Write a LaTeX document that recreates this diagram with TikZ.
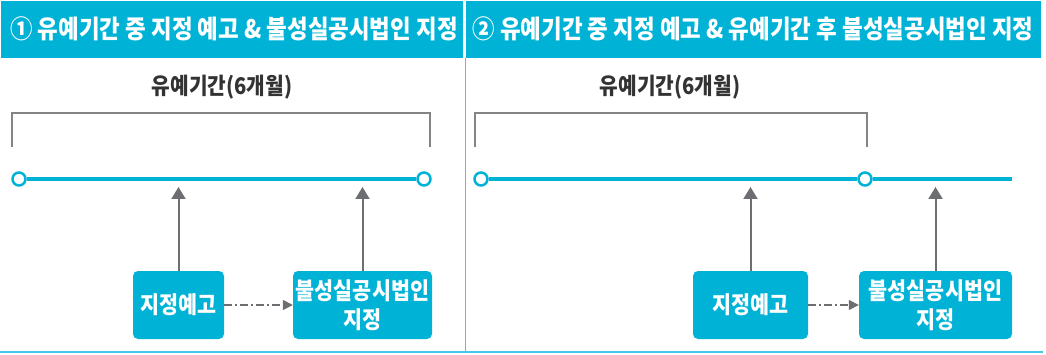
\documentclass[tikz,border=0pt]{standalone}
\usepackage{fontspec}
\setmainfont{Noto Sans CJK KR}[FakeStretch=0.88]
\usepackage{tikz}
\usetikzlibrary{arrows.meta}

\definecolor{tcyan}{HTML}{00B3D6}
\definecolor{lcyan}{HTML}{45C8E6}
\definecolor{tgray}{HTML}{6D6E71}
\definecolor{tdark}{HTML}{333333}

\begin{document}
\begin{tikzpicture}[x=1pt,y=-1pt,
	head/.style={text=white,font=\fontsize{25.5}{28}\selectfont\bfseries},
	period/.style={text=tdark,font=\fontsize{23}{25}\selectfont\bfseries},
	pt/.style={circle,draw=tcyan,fill=white,line width=2.5pt,minimum size=13pt,inner sep=0pt},
	box/.style={rounded corners=5pt,fill=tcyan,text=white,align=center,
		minimum height=68pt,inner sep=0pt,font=\fontsize{23.5}{29}\selectfont\bfseries},
	tline/.style={tcyan,line width=4pt},
	brace/.style={tgray!85,line width=2pt},
	uparrow/.style={tgray,line width=2pt,-{Triangle[width=14pt,length=12pt]}},
	dotarrow/.style={tgray,line width=1.5pt,dash pattern=on 8pt off 3pt on 2pt off 3pt,
		-{Triangle[width=10pt,length=10pt]}}]
\useasboundingbox (0,0) rectangle (1046,355);

%% bandeau
\fill [tcyan] (1,1) rectangle (463,58);
\fill [tcyan] (466,1) rectangle (1041,58);
\draw [lcyan, line width=1pt] (465,58)--(465,352);
\draw [lcyan, line width=2pt] (0,352)--(1043,352);

\node [head] (h1) at (234,29) {① 유예기간 중 지정 예고 \& 불성실공시법인 지정};
\node [head] (h2) at (753,29) {② 유예기간 중 지정 예고 \& 유예기간 후 불성실공시법인 지정};

%% panneau 1
\node [period] (g1) at (222,87) {유예기간(6개월)};
\draw [brace] (12,147)--(12,113)--(430,113)--(430,147);

\node [pt] (a1) at (19,179) {};
\node [pt] (a2) at (424,179) {};
\draw [tline] (a1)--(a2);

\node [box, minimum width=91pt] (b1) at (178.5,305) {지정예고};
\node [box, minimum width=139pt] (b2) at (362.5,305) {불성실공시법인\\지정};
\coordinate (t1) at (179,187);

\draw [uparrow] (b1.north)--(b1.north |- t1);
\draw [uparrow] (b2.north)--(b2.north |- t1);
\draw [dotarrow] (b1)--(b2);

%% panneau 2
\node [period] (g2) at (670,87) {유예기간(6개월)};
\draw [brace] (475,147)--(475,113)--(867,113)--(867,147);

\node [pt] (c1) at (481,179) {};
\node [pt] (c2) at (865,179) {};
\coordinate (c3) at (1012,179);
\draw [tline] (c1)--(c2)--(c3);

\node [box, minimum width=115pt] (d1) at (750.5,305) {지정예고};
\node [box, minimum width=153pt] (d2) at (935.5,305) {불성실공시법인\\지정};
\coordinate (t2) at (750,187);

\draw [uparrow] (d1.north)--(d1.north |- t2);
\draw [uparrow] (d2.north)--(d2.north |- t2);
\draw [dotarrow] (d1)--(d2);

\end{tikzpicture}
\end{document}
